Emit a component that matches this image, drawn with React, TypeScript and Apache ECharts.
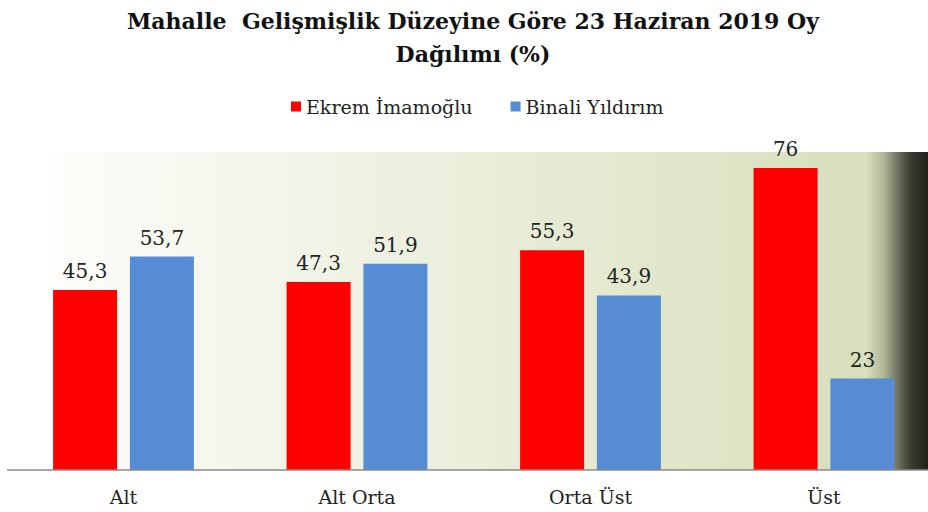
import React, { useEffect, useRef } from "react";
import * as echarts from "echarts";

const categories = ["Alt", "Alt Orta", "Orta Üst", "Üst"];
const imamogluValues = [45.3, 47.3, 55.3, 76];
const yildirimValues = [53.7, 51.9, 43.9, 23];
const seriesNames = ["Ekrem İmamoğlu", "Binali Yıldırım"];

const FONT = "'DejaVu Serif', 'Liberation Serif', serif";

export default function App() {
  const ref = useRef<HTMLDivElement>(null);
  useEffect(() => {
    if (!ref.current) return;
    const chart = echarts.init(ref.current, null, { renderer: "svg" });
    const fmt = (p: any) => String(p.value).replace(".", ",");
    const labelStyle = {
      show: true,
      position: "top",
      distance: 9,
      formatter: fmt,
      fontFamily: FONT,
      fontSize: 20,
      color: "#222",
    };
    chart.setOption({
      animation: false,
      backgroundColor: "#ffffff",
      title: {
        text: "Mahalle  Gelişmişlik Düzeyine Göre 23 Haziran 2019 Oy\nDağılımı (%)",
        left: 473,
        textAlign: "center",
        top: 4,
        padding: 0,
        textStyle: {
          fontFamily: FONT,
          fontWeight: "bold",
          fontSize: 22,
          lineHeight: 33,
          color: "#111",
        },
      },
      legend: {
        data: seriesNames,
        top: 92,
        left: 286,
        icon: "rect",
        itemWidth: 10,
        itemHeight: 10,
        itemGap: 38,
        textStyle: { fontFamily: FONT, fontSize: 19, color: "#222" },
      },
      graphic: [
        {
          type: "rect",
          z: -10,
          shape: { x: 48, y: 152, width: 880, height: 318 },
          style: {
            fill: new echarts.graphic.LinearGradient(0, 0, 1, 0, [
              { offset: 0, color: "#fdfdfb" },
              { offset: 0.15, color: "#f7f8f0" },
              { offset: 0.5, color: "#e9edd9" },
              { offset: 0.93, color: "#d8dfbc" },
              { offset: 0.95, color: "#b0b596" },
              { offset: 0.965, color: "#6f7460" },
              { offset: 0.98, color: "#3a3e31" },
              { offset: 1, color: "#1e2119" },
            ]),
          },
          silent: true,
        },
        {
          type: "line",
          z: 10,
          shape: { x1: 7, y1: 470, x2: 928, y2: 470 },
          style: { stroke: "#8a8a8a", lineWidth: 1.5 },
          silent: true,
        },
      ],
      grid: { left: 123.5, top: 152, right: 104, height: 318, containLabel: false },
      xAxis: {
        type: "category",
        data: categories,
        boundaryGap: false,
        axisLine: { show: false },
        axisTick: { show: false },
        axisLabel: {
          fontFamily: FONT,
          fontSize: 19,
          color: "#222",
          margin: 17,
        },
      },
      yAxis: {
        type: "value",
        min: 0,
        max: 80,
        show: false,
        splitLine: { show: false },
      },
      series: [
        {
          name: seriesNames[0],
          type: "bar",
          data: imamogluValues,
          barWidth: 64,
          barGap: "20%",
          itemStyle: { color: "#ff0000" },
          label: labelStyle,
        },
        {
          name: seriesNames[1],
          type: "bar",
          data: yildirimValues,
          barWidth: 64,
          itemStyle: { color: "#558cd4" },
          label: labelStyle,
        },
      ],
    });
    return () => chart.dispose();
  }, []);
  return (
    <div
      ref={ref}
      style={{ position: "absolute", left: 0, top: 0, width: 928, height: 512 }}
    />
  );
}
